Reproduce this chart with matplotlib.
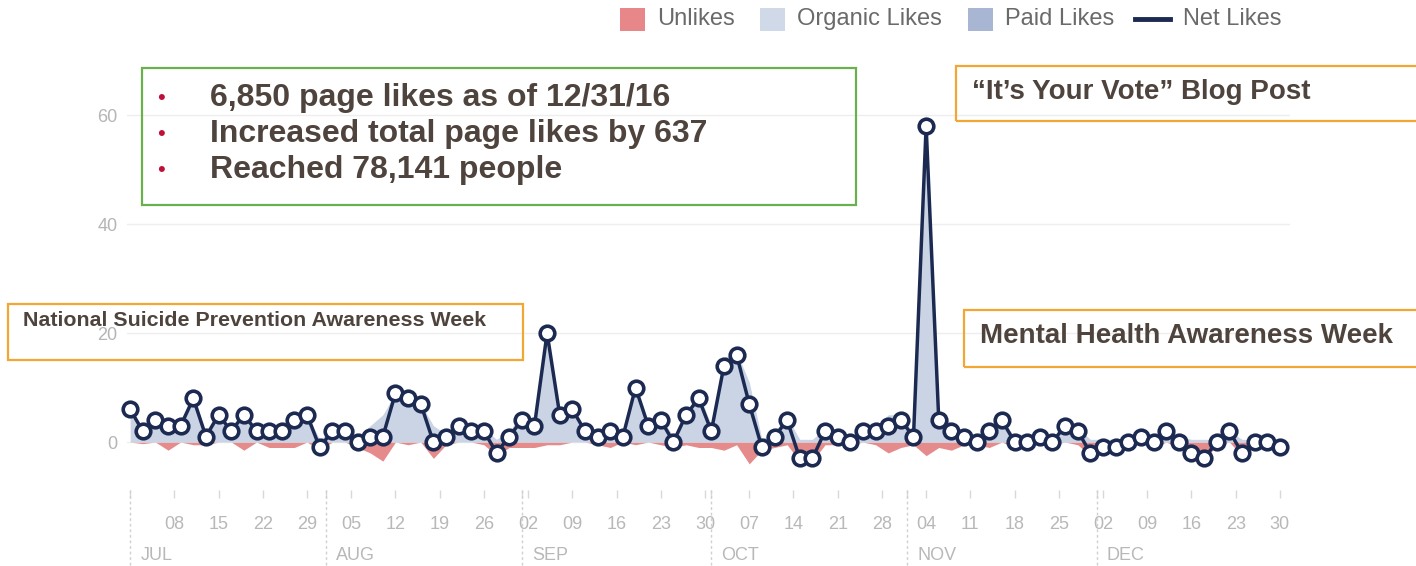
import numpy as np
import pandas as pd
import matplotlib
matplotlib.use('Agg')
import matplotlib.pyplot as plt
import matplotlib.transforms as mtransforms
from matplotlib.patches import Rectangle
from matplotlib.lines import Line2D

plt.rcParams['font.family'] = ['Liberation Sans', 'DejaVu Sans']

# Facebook page likes, one point every 2 days from 1 Jul 2016
net_likes = [6, 2, 4, 3, 3, 8, 1, 5, 2, 5, 2, 2, 2, 4, 5, -1, 2, 2, 0, 1, 1, 9, 8, 7,
             0, 1, 3, 2, 2, -2, 1, 4, 3, 20, 5, 6, 2, 1, 2, 1, 10, 3, 4, 0, 5, 8, 2, 14, 16,
             7, -1, 1, 4, -3, -3, 2, 1, 0, 2, 2, 3, 4, 1, 58, 4, 2, 1, 0, 2, 4, 0,
             0, 1, 0, 3, 2, -2, -1, -1, 0, 1, 0, 2, 0, -2, -3, 0, 2, -2, 0, 0, -1]

organic_likes = [6, 2.5, 4, 4.5, 3, 8.5, 1.5, 5, 2, 6.5, 2, 3, 3, 5, 5, 0.5, 2, 2, 1, 3, 5, 9, 8.5, 7,
                 3, 1.5, 3, 2, 2.5, 0.5, 2, 5, 4, 20.5, 5.5, 6, 2, 1.5, 3, 1, 10.5, 3, 4.5, 1, 5.5, 9, 3, 15.5, 16.5,
                 11, 0.5, 2, 4.5, 0.5, 0.5, 2.5, 1.5, 0.5, 2, 2.5, 5, 5, 1.5, 60.5, 5, 3.5, 1.5, 0.5, 3, 4, 1,
                 0.5, 1, 0.5, 3, 2.5, 0.5, 0.5, 0.5, 0.5, 1, 1, 2, 1, 0.5, 0.5, 0.5, 2, 0.5, 0.5, 0.5, 0.5]

unlikes = [0, -0.3, 0, -1.5, 0, -0.5, -0.5, 0, 0, -1.5, 0, -1, -1, -1, 0, -1.5, 0, 0, -1, -2, -3.5, 0, -0.5, 0,
           -3, -0.5, 0, 0, -0.5, -2.5, -1, -1, -1, -0.5, -0.5, 0, 0, -0.5, -1, 0, -0.5, 0, -0.5, -1, -0.5, -1, -1, -1.5, -0.5,
           -4, -1.5, -1, -0.5, -3.5, -3.5, -0.5, -0.5, -0.5, 0, -0.5, -2, -1, -0.5, -2.5, -1, -1.5, -0.5, -0.5, -1, 0, -1,
           -0.5, 0, -0.5, 0, -0.5, -2.5, -1.5, -1.5, -0.5, 0, -1, 0, -1, -2.5, -3.5, -0.5, 0, -2.5, -0.5, -0.5, -1.5]

month_names = ['JUL', 'AUG', 'SEP', 'OCT', 'NOV', 'DEC']
y_ticks = [0, 20, 40, 60]

start = pd.Timestamp('2016-07-01')
dates = pd.date_range(start, periods=len(net_likes), freq='2D')
x = np.array((dates - start).days)

week_dates = pd.date_range('2016-07-08', '2016-12-30', freq='7D')
week_x = np.array((week_dates - start).days)
week_labels = [d.strftime('%d') for d in week_dates]
month_dates = pd.date_range('2016-07-01', periods=6, freq='MS')
month_x = np.array((month_dates - start).days)

W, H = 1416, 566
def fx(px):
    return px / W
def fy(py):
    return 1 - py / H

navy = '#1c2a52'
fig = plt.figure(figsize=(W / 100, H / 100), dpi=100)
ax = fig.add_axes([fx(127), fy(490), fx(1290) - fx(127), (490 - 60) / H])

ax.fill_between(x, unlikes, 0, color='#e58b8b', lw=0, zorder=2)
ax.fill_between(x, organic_likes, 0, color='#cad4e5', lw=0, zorder=3)
ax.plot(x, net_likes, color=navy, lw=2.5, marker='o', ms=10.5, mfc='white',
        mec=navy, mew=2.6, zorder=5, clip_on=False)

ax.set_xlim(-0.5, 183.6)
ax.set_ylim(-8.8, 70.1)
ax.set_yticks(y_ticks)
ax.tick_params(axis='y', length=0, pad=7, labelsize=13, labelcolor='#b5b5b5')
ax.grid(axis='y', color='#eeeeee', lw=1)
ax.set_axisbelow(True)
for s in ax.spines.values():
    s.set_visible(False)

ax.set_xticks(week_x)
ax.set_xticklabels(week_labels)
ax.set_xticks(month_x, minor=True)
ax.tick_params(axis='x', which='both', direction='out', length=6, width=1,
               color='#d8d8d8', pad=13, labelsize=13, labelcolor='#b8b8b8')

# month separators and names
trans = mtransforms.blended_transform_factory(ax.transData, fig.transFigure)
for mx, name in zip(month_x, month_names):
    ax.plot([mx, mx], [fy(490), fy(566)], transform=trans, ls=(0, (2, 2)),
            color='#d0d0d0', lw=1, clip_on=False)
    ax.text(mx + 1.6, fy(556), name, transform=trans, fontsize=13,
            color='#b8b8b8', va='center', ha='left')

# legend
legend_items = [(620, '#e8878a', 'Unlikes'), (760, '#d0d9e7', 'Organic Likes'),
                (968, '#a8b6d4', 'Paid Likes')]
for px, col, lab in legend_items:
    fig.patches.append(Rectangle((fx(px), fy(31)), 25 / W, 23 / H, transform=fig.transFigure,
                                 facecolor=col, edgecolor='none'))
    fig.text(fx(px + 37), fy(19), lab, fontsize=17, color='#6a6a6a', va='center')
fig.lines.append(Line2D([fx(1135), fx(1170)], [fy(19), fy(19)], transform=fig.transFigure,
                        color=navy, lw=3.5))
fig.text(fx(1183), fy(19), 'Net Likes', fontsize=17, color='#6a6a6a', va='center')

# annotation boxes
text_col = '#4e443d'
def box(x0, y0, x1, y1, col):
    fig.patches.append(Rectangle((fx(x0), fy(y1)), (x1 - x0) / W, (y1 - y0) / H,
                                 transform=fig.transFigure, fill=False,
                                 edgecolor=col, lw=1.6))

box(142, 68, 856, 205, '#6ab04c')
bullets = ['6,850 page likes as of 12/31/16', 'Increased total page likes by 637',
           'Reached 78,141 people']
for yy, t in zip([98, 134, 170], bullets):
    fig.text(fx(161), fy(yy), '•', fontsize=16, color='#c0103a', va='center', ha='center')
    fig.text(fx(210), fy(yy), t, fontsize=23, fontweight='bold', color=text_col, va='center')

orange = '#f2a634'
box(956, 66, 1430, 121, orange)
fig.text(fx(972), fy(92), '“It’s Your Vote” Blog Post', fontsize=20, fontweight='bold',
         color=text_col, va='center')

box(8, 304, 523, 360, orange)
fig.text(fx(23), fy(321), 'National Suicide Prevention Awareness Week', fontsize=15.4,
         fontweight='bold', color=text_col, va='center')

box(964, 310, 1430, 367, orange)
fig.text(fx(980), fy(336), 'Mental Health Awareness Week', fontsize=20, fontweight='bold',
         color=text_col, va='center')

fig.savefig('out.png', dpi=100)
